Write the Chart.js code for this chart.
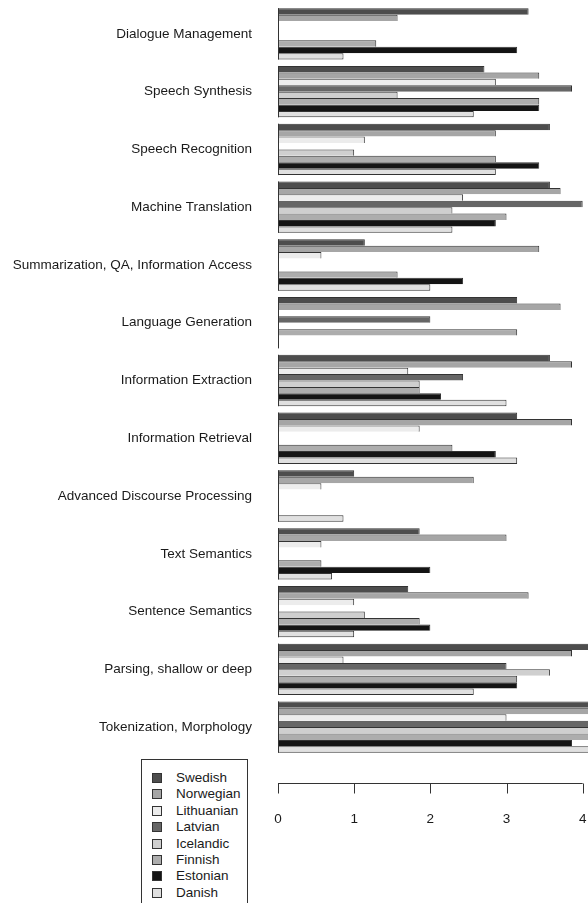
<!DOCTYPE html>
<html>
<head>
<meta charset="utf-8">
<script src="https://cdn.jsdelivr.net/npm/chart.js@4.4.1/dist/chart.umd.min.js"></script>
<style>
  html, body { margin: 0; padding: 0; background: #fff; }
  #wrap { position: relative; width: 588px; height: 903px; overflow: hidden; }
  canvas { display: block; }
  #legend {
    position: absolute; left: 141px; top: 759px; width: 107px; height: 160px;
    border: 1px solid #333; box-sizing: border-box; background: #fff;
    font: 13.5px "Liberation Sans", Arial, sans-serif; color: #1a1a1a;
  }
  #legend .item { position: absolute; left: 0; height: 16px; line-height: 16px; white-space: nowrap; }
  #legend .sw { position: absolute; left: 10px; top: 3px; width: 8px; height: 8px; border: 1px solid #333; }
  #legend .lbl { position: absolute; left: 34px; top: 0; }
</style>
</head>
<body>
<div id="wrap">
  <canvas id="chart" width="588" height="903"></canvas>
  <div id="legend"></div>
</div>
<script>
// Task areas, listed top to bottom
const categories = [
  'Dialogue Management',
  'Speech Synthesis',
  'Speech Recognition',
  'Machine Translation',
  'Summarization, QA, Information Access',
  'Language Generation',
  'Information Extraction',
  'Information Retrieval',
  'Advanced Discourse Processing',
  'Text Semantics',
  'Sentence Semantics',
  'Parsing, shallow or deep',
  'Tokenization, Morphology'
];

const languages = ['Swedish', 'Norwegian', 'Lithuanian', 'Latvian', 'Icelandic', 'Finnish', 'Estonian', 'Danish'];

// Support scores per language, one value per task area
const swedish    = [3.29, 2.71, 3.57, 3.57, 1.14, 3.14, 3.57, 3.14, 1.00, 1.86, 1.71, 4.14, 4.29];
const norwegian  = [1.57, 3.43, 2.86, 3.71, 3.43, 3.71, 3.86, 3.86, 2.57, 3.00, 3.29, 3.86, 4.29];
const lithuanian = [0.00, 2.86, 1.14, 2.43, 0.57, 0.00, 1.71, 1.86, 0.57, 0.57, 1.00, 0.86, 3.00];
const latvian    = [0.00, 3.86, 0.00, 4.00, 0.00, 2.00, 2.43, 0.00, 0.00, 0.00, 0.00, 3.00, 4.29];
const icelandic  = [0.00, 1.57, 1.00, 2.29, 0.00, 0.00, 1.86, 0.00, 0.00, 0.00, 1.14, 3.57, 4.29];
const finnish    = [1.29, 3.43, 2.86, 3.00, 1.57, 3.14, 1.86, 2.29, 0.00, 0.57, 1.86, 3.14, 4.29];
const estonian   = [3.14, 3.43, 3.43, 2.86, 2.43, 0.00, 2.14, 2.86, 0.00, 2.00, 2.00, 3.14, 3.86];
const danish     = [0.86, 2.57, 2.86, 2.29, 2.00, 0.00, 3.00, 3.14, 0.86, 0.71, 1.00, 2.57, 4.29];

const xTicks = [0, 1, 2, 3, 4];

const seriesValues = [swedish, norwegian, lithuanian, latvian, icelandic, finnish, estonian, danish];
const fills = ['#4d4d4d', '#a6a6a6', '#ececec', '#666666', '#cfcfcf', '#adadad', '#141414', '#e0e0e0'];
const edge = '#333333';
const FONT = { family: '"Liberation Sans", Arial, sans-serif', size: 13.5 };

const datasets = languages.map((name, i) => ({
  label: name,
  data: seriesValues[i],
  backgroundColor: fills[i],
  borderColor: edge,
  borderSkipped: false,
  borderWidth: { left: 1, right: 1, top: 1, bottom: i === languages.length - 1 ? 1 : 0 }
}));

// Baseline for each group plus a detached value axis under the plot
const baseAxis = {
  id: 'baseAxis',
  afterDatasetsDraw(chart) {
    const { ctx, chartArea } = chart;
    const x = chart.scales.x;
    const first = chart.getDatasetMeta(0);
    const last = chart.getDatasetMeta(chart.data.datasets.length - 1);
    ctx.save();
    ctx.strokeStyle = edge;
    ctx.lineWidth = 1;
    const x0 = Math.round(x.getPixelForValue(0)) + 0.5;
    first.data.forEach((bar, i) => {
      const lb = last.data[i];
      ctx.beginPath();
      ctx.moveTo(x0, bar.y - bar.height / 2);
      ctx.lineTo(x0, lb.y + lb.height / 2);
      ctx.stroke();
    });
    const ay = Math.round(chartArea.bottom + 27) + 0.5;
    ctx.beginPath();
    ctx.moveTo(x.getPixelForValue(xTicks[0]), ay);
    ctx.lineTo(x.getPixelForValue(xTicks[xTicks.length - 1]), ay);
    xTicks.forEach(v => {
      const px = Math.round(x.getPixelForValue(v)) + 0.5;
      ctx.moveTo(px, ay);
      ctx.lineTo(px, ay + 10);
    });
    ctx.stroke();
    ctx.restore();
  }
};

const chart = new Chart(document.getElementById('chart'), {
  type: 'bar',
  data: { labels: categories, datasets },
  plugins: [baseAxis],
  options: {
    indexAxis: 'y',
    responsive: false,
    animation: false,
    layout: { padding: { top: 5, right: 0, bottom: 0, left: 0 } },
    datasets: { bar: { barPercentage: 1, categoryPercentage: 8 / 9 } },
    plugins: { legend: { display: false }, tooltip: { enabled: false } },
    scales: {
      x: {
        min: 0,
        max: 4.07,
        grid: { display: false, drawTicks: false },
        border: { display: false },
        afterBuildTicks(scale) { scale.ticks = xTicks.map(v => ({ value: v })); },
        ticks: { color: '#1a1a1a', font: FONT, padding: 55, maxRotation: 0 },
        afterFit(scale) {
          scale.height = 147;
          scale.paddingLeft = 0;
          scale.paddingRight = 0;
        }
      },
      y: {
        grid: { display: false, drawTicks: false },
        border: { display: false },
        ticks: { color: '#1a1a1a', font: FONT, padding: 26, autoSkip: false },
        afterFit(scale) {
          scale.width = 278;
          scale.paddingTop = 0;
          scale.paddingBottom = 0;
        }
      }
    }
  }
});

// Legend box built from the chart's own datasets
const legend = document.getElementById('legend');
chart.data.datasets.forEach((ds, i) => {
  const item = document.createElement('div');
  item.className = 'item';
  item.style.top = (10 + i * 16.4) + 'px';
  const sw = document.createElement('span');
  sw.className = 'sw';
  sw.style.background = ds.backgroundColor;
  const lbl = document.createElement('span');
  lbl.className = 'lbl';
  lbl.textContent = ds.label;
  item.appendChild(sw);
  item.appendChild(lbl);
  legend.appendChild(item);
});
</script>
</body>
</html>
